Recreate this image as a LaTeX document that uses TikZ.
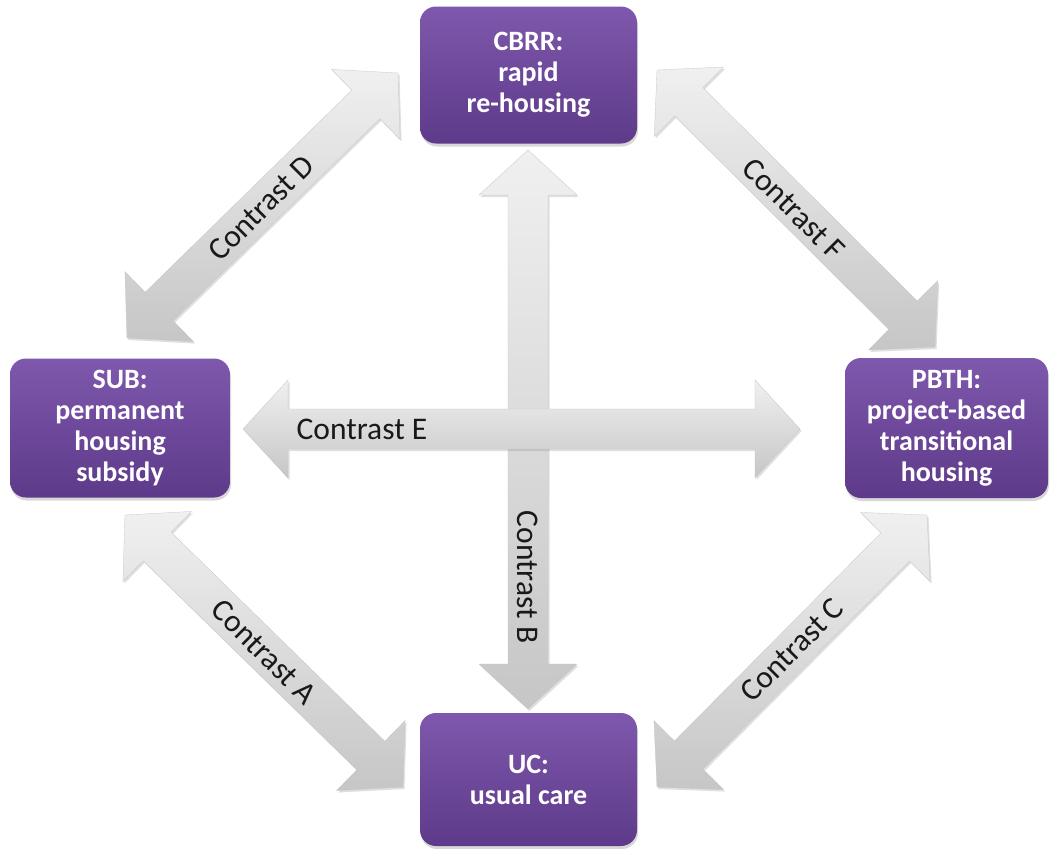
\documentclass[tikz,border=0pt]{standalone}
\usepackage{fontspec}
\setmainfont{Carlito}
\usetikzlibrary{calc,shadows}
\definecolor{boxtop}{RGB}{126,88,172}
\definecolor{boxbot}{RGB}{94,58,138}
\definecolor{arrtop}{RGB}{240,240,240}
\definecolor{arrbot}{RGB}{198,198,198}
\newcommand\boxfont{\bfseries\fontsize{28}{31}\selectfont}
\newcommand\labfont{\fontsize{31.5}{34}\selectfont}
\newcommand\bigarrow[3][]{%
  \shade[bigarr,#1] (#2)
    -- ($(#2)!45pt!(#3)!49pt!90:(#3)$)
    -- ($(#2)!45pt!(#3)!20pt!90:(#3)$)
    -- ($(#3)!45pt!(#2)!20pt!-90:(#2)$)
    -- ($(#3)!45pt!(#2)!49pt!-90:(#2)$)
    -- (#3)
    -- ($(#3)!45pt!(#2)!49pt!90:(#2)$)
    -- ($(#3)!45pt!(#2)!20pt!90:(#2)$)
    -- ($(#2)!45pt!(#3)!20pt!-90:(#3)$)
    -- ($(#2)!45pt!(#3)!49pt!-90:(#3)$)
    -- cycle;}
\tikzset{
  box/.style={rounded corners=16pt, top color=boxtop, bottom color=boxbot,
    draw=none, text=white, font=\boxfont, align=center, inner sep=0pt,
    drop shadow={opacity=0.3, shadow xshift=1pt, shadow yshift=-3pt}},
  bigarr/.style={top color=arrtop, bottom color=arrbot, draw=gray!45, line width=0.3pt,
    drop shadow={opacity=0.25, shadow xshift=1.5pt, shadow yshift=-2pt}},
  lab/.style={font=\labfont, text=black!90, inner sep=0pt}
}
\begin{document}
\begin{tikzpicture}[x=1pt,y=-1pt]
\useasboundingbox[fill=white] (0,0) rectangle (1050,849);

% nodes
\node[box, minimum width=217pt, minimum height=137pt] (cbrr) at (528.5,75) {CBRR:\\rapid\\re-housing};
\node[box, minimum width=220pt, minimum height=139pt] (sub) at (120,428) {SUB:\\permanent\\housing\\subsidy};
\node[box, minimum width=203pt, minimum height=140pt] (pbth) at (946.5,428) {PBTH:\\project-based\\transitional\\housing};
\node[box, minimum width=217pt, minimum height=133pt] (uc) at (528.5,779.5) {UC:\\usual care};

% arrow end points
\coordinate (dS) at (127,338);  \coordinate (dN) at (398,73);
\coordinate (fN) at (657,70);   \coordinate (fS) at (935,347);
\coordinate (aN) at (125,515);  \coordinate (aS) at (403,787);
\coordinate (cS) at (657,787);  \coordinate (cN) at (927,515);
\coordinate (bN) at (528,150);  \coordinate (bS) at (528,709);
\coordinate (eW) at (243,429);  \coordinate (eE) at (800,429);

% connectors
\bigarrow{dS}{dN}
\bigarrow{fN}{fS}
\bigarrow{aN}{aS}
\bigarrow{cS}{cN}
\bigarrow{bN}{bS}
\bigarrow{eW}{eE}

% labels
\node[lab, rotate=45]  (labD) at (261,208) {Contrast D};
\node[lab, rotate=-45] (labF) at (794,209) {Contrast F};
\node[lab, rotate=-45] (labA) at (264,652) {Contrast A};
\node[lab, rotate=45]  (labC) at (792,650) {Contrast C};
\node[lab, rotate=-90] (labB) at (528,577) {Contrast B};
\node[lab] (labE) at (362,429) {Contrast E};
\end{tikzpicture}
\end{document}
